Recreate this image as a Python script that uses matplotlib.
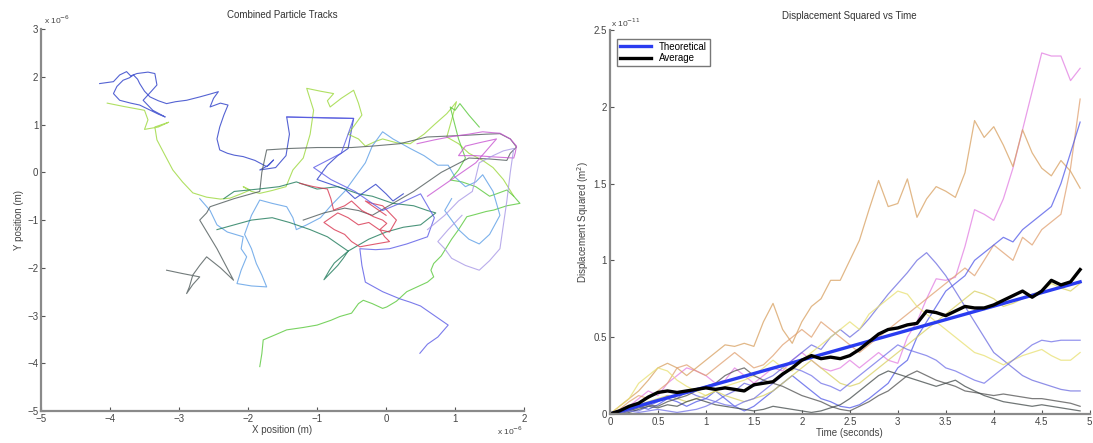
import numpy as np
import matplotlib
matplotlib.use("Agg")
from matplotlib import pyplot as plt

plt.rcParams['font.family'] = ['Liberation Sans', 'DejaVu Sans']
plt.rcParams['font.size'] = 7

# ---- left panel: particle tracks, in units of 1e-6 m ----
tracks = [
    # dark blue
    ([-4.15, -3.95, -3.86, -3.76, -3.70, -3.61, -3.45, -3.35, -3.32, -3.40, -3.52, -3.38, -3.20,
      -3.30, -3.57, -3.70, -3.86, -3.95, -3.90, -3.81, -3.72, -3.66, -3.60, -3.57, -3.50, -3.42,
      -3.30, -3.18, -3.05, -2.89, -2.70, -2.55, -2.43, -2.50, -2.55, -2.40, -2.29, -2.35, -2.41,
      -2.45, -2.41, -2.30, -2.20, -2.07, -1.90, -1.73, -1.63, -1.70, -1.83, -1.60, -1.45, -1.40,
      -1.44, -1.20, -0.90, -0.47, -0.50, -0.55, -0.70, -0.85, -1.00, -0.80, -0.60, -0.45, -0.30,
      -0.15, 0.00, 0.10, 0.25],
     [1.86, 1.90, 2.04, 2.11, 2.02, 2.07, 2.10, 2.07, 1.83, 1.70, 1.51, 1.30, 1.16,
      1.22, 1.41, 1.45, 1.51, 1.65, 1.80, 1.93, 1.98, 2.04, 1.95, 1.86, 1.70, 1.58,
      1.50, 1.44, 1.48, 1.51, 1.58, 1.64, 1.69, 1.55, 1.37, 1.45, 1.41, 1.20, 0.95,
      0.70, 0.47, 0.40, 0.36, 0.33, 0.25, 0.12, 0.26, 0.15, 0.05, 0.10, 0.35, 0.80,
      1.16, 1.15, 1.14, 1.13, 0.90, 0.50, 0.35, 0.15, -0.15, -0.25, -0.35, -0.55, -0.40,
      -0.25, -0.45, -0.60, -0.45], '#2a3cc8'),
    # yellow green
    ([-4.04, -3.80, -3.50, -3.45, -3.50, -3.30, -3.15, -3.25, -3.35, -3.32, -3.20, -3.09, -2.95,
      -2.80, -2.60, -2.40, -2.26, -2.10, -1.97, -2.07, -1.95, -1.83, -1.65, -1.45, -1.35, -1.20,
      -1.10, -1.05, -1.15, -0.95, -0.76, -0.85, -0.81, -0.65, -0.47, -0.40, -0.35, -0.45, -0.55,
      -0.40, -0.30, -0.15, -0.05, 0.15, 0.35, 0.55, 0.70, 0.88, 0.95, 1.02, 0.95, 0.88, 1.05,
      1.20, 1.40, 1.55, 1.70, 1.85],
     [1.45, 1.38, 1.30, 1.10, 0.90, 0.95, 1.05, 1.00, 0.95, 0.68, 0.35, 0.05, -0.20,
      -0.43, -0.52, -0.56, -0.54, -0.45, -0.37, -0.30, -0.40, -0.44, -0.38, -0.30, 0.05, 0.30,
      0.80, 1.30, 1.76, 1.70, 1.65, 1.50, 1.37, 1.55, 1.72, 1.45, 1.20, 1.00, 0.80,
      0.70, 0.55, 0.65, 0.70, 0.62, 0.60, 0.80, 1.00, 1.23, 1.35, 1.48, 1.10, 0.74, 0.60,
      0.40, 0.25, 0.10, -0.15, -0.50], '#9cd83c'),
    # bright green
    ([-1.83, -1.80, -1.78, -1.60, -1.44, -1.20, -1.00, -0.80, -0.67, -0.50, -0.40, -0.33, -0.20,
      -0.05, 0.01, 0.15, 0.30, 0.45, 0.60, 0.69, 0.65, 0.69, 0.80, 0.95, 1.05, 1.17, 1.30, 1.45,
      1.56, 1.75, 1.94, 1.85, 1.75, 1.60, 1.50, 1.30, 1.10, 0.93, 1.05, 1.15, 1.05, 0.98, 0.93,
      1.00, 1.07, 1.20, 1.35],
     [-4.07, -3.80, -3.51, -3.40, -3.30, -3.25, -3.20, -3.10, -3.02, -2.95, -2.75, -2.68, -2.75,
      -2.85, -2.82, -2.70, -2.50, -2.40, -2.30, -2.19, -2.05, -1.91, -1.75, -1.40, -1.20, -0.93,
      -0.88, -0.82, -0.79, -0.70, -0.65, -0.50, -0.37, -0.45, -0.50, -0.30, -0.20, -0.16, 0.05,
      0.30, 0.70, 1.09, 1.37, 1.30, 1.44, 1.20, 0.95], '#58c83a'),
    # light blue
    ([-2.70, -2.55, -2.45, -2.30, -2.07, -2.10, -2.02, -2.10, -2.16, -1.95, -1.73, -1.80, -1.88,
      -1.95, -2.05, -1.95, -1.83, -1.65, -1.44, -1.35, -1.30, -1.15, -0.95, -0.80, -0.60, -0.45,
      -0.30, -0.20, -0.05, 0.10, 0.35, 0.55, 0.75, 0.90, 1.00, 1.15, 1.30, 1.40, 1.55, 1.65,
      1.50, 1.35, 1.20, 1.05, 0.95, 0.85, 0.95],
     [-0.55, -0.80, -1.10, -1.25, -1.35, -1.60, -1.77, -2.05, -2.33, -2.38, -2.40, -2.15, -1.91,
      -1.60, -1.30, -0.90, -0.58, -0.65, -0.72, -0.95, -1.20, -1.10, -0.95, -0.70, -0.40, -0.10,
      0.20, 0.55, 0.85, 0.70, 0.50, 0.35, 0.15, 0.15, -0.10, -0.30, -0.20, -0.05, -0.40, -0.90,
      -1.30, -1.50, -1.40, -1.20, -1.00, -0.80, -0.55], '#5c9ee6'),
    # dark gray
    ([-3.18, -2.95, -2.70, -2.80, -2.89, -2.85, -2.80, -2.70, -2.60, -2.40, -2.21, -2.45, -2.70,
      -2.60, -2.55, -2.20, -1.83, -1.80, -1.73, -1.40, -1.00, -0.50, -0.20, 0.20, 0.59, 0.90,
      1.20, 1.45, 1.65, 1.80, 1.89, 1.80, 1.75, 1.50, 1.20, 0.80, 0.40, 0.10, -0.20, -0.40,
      -0.60, -0.90, -1.20],
     [-2.05, -2.12, -2.19, -2.35, -2.54, -2.40, -2.15, -1.95, -1.77, -2.00, -2.26, -1.60, -1.00,
      -0.85, -0.72, -0.55, -0.40, 0.00, 0.47, 0.50, 0.52, 0.52, 0.55, 0.60, 0.74, 0.76,
      0.78, 0.80, 0.81, 0.70, 0.53, 0.40, 0.25, 0.28, 0.30, 0.00, -0.40, -0.65, -0.90, -0.80,
      -0.75, -0.85, -1.00], '#4f5a5a'),
    # dark green
    ([-2.45, -2.20, -1.95, -1.65, -1.40, -1.10, -0.85, -0.70, -0.55, -0.62, -0.70, -0.80, -0.90,
      -0.82, -0.75, -0.55, -0.25, 0.00, 0.25, 0.50, 0.72, 0.60, 0.40, 0.10, -0.20, -0.40, -0.70,
      -1.00, -1.30, -1.55, -1.85, -2.20, -2.35],
     [-1.20, -1.10, -1.00, -0.95, -1.05, -1.20, -1.35, -1.50, -1.65, -1.80, -1.95, -2.10, -2.25,
      -2.05, -1.90, -1.65, -1.40, -1.25, -1.15, -1.10, -0.85, -0.80, -0.70, -0.65, -0.50, -0.45,
      -0.30, -0.35, -0.20, -0.30, -0.35, -0.40, -0.55], '#1e7a5a'),
    # red
    ([-1.25, -1.05, -0.85, -0.80, -0.76, -0.60, -0.50, -0.35, -0.18, -0.05, 0.01, -0.09, -0.02,
      0.05, -0.15, -0.38, -0.50, -0.60, -0.75, -0.90, -0.80, -0.70, -0.55, -0.40, -0.25, -0.10,
      0.05, 0.15, 0.05, -0.05, -0.20, -0.30, -0.15, 0.00],
     [-0.23, -0.30, -0.35, -0.55, -0.79, -0.70, -0.60, -0.80, -0.93, -1.00, -1.07, -1.20, -1.35,
      -1.45, -1.50, -1.56, -1.45, -1.30, -1.20, -1.05, -0.95, -0.85, -0.95, -1.10, -1.05, -1.20,
      -1.25, -1.00, -0.85, -0.70, -0.65, -0.60, -0.75, -0.90], '#d8344e'),
    # magenta
    ([0.45, 0.70, 0.95, 1.20, 1.40, 1.55, 1.65, 1.80, 1.89, 1.87, 1.85, 1.60, 1.30, 1.05, 1.10,
      1.15, 1.35, 1.60, 1.45, 1.30, 1.10, 0.90, 0.75, 0.60],
     [0.60, 0.68, 0.75, 0.80, 0.85, 0.83, 0.82, 0.70, 0.55, 0.40, 0.30, 0.32, 0.35, 0.35, 0.45,
      0.55, 0.62, 0.70, 0.45, 0.20, 0.00, -0.20, -0.35, -0.50], '#c855d2'),
    # violet
    ([-1.44, -1.00, -0.47, -0.55, -0.65, -0.85, -1.05, -0.80, -0.45, -0.25, -0.05, 0.20, 0.50,
      0.60, 0.70, 0.65, 0.60, 0.30, 0.05, -0.15, -0.38, -0.35, -0.30, -0.05, 0.20, 0.35, 0.50,
      0.60, 0.70, 0.80, 0.90, 0.75, 0.60, 0.49],
     [1.16, 1.15, 1.13, 0.80, 0.40, 0.25, 0.10, -0.15, -0.40, -0.60, -0.80, -0.65, -0.45,
      -0.70, -0.95, -1.15, -1.35, -1.50, -1.60, -1.62, -1.60, -1.95, -2.30, -2.50, -2.65, -2.72,
      -2.80, -2.90, -3.00, -3.10, -3.20, -3.45, -3.60, -3.79], '#5a5ae6'),
    # lilac
    ([0.60, 0.85, 1.05, 1.25, 1.30, 1.35, 1.55, 1.70, 1.85, 1.80, 1.75, 1.65, 1.50, 1.35, 1.15,
      0.95, 0.85, 0.75, 0.90, 1.10],
     [-1.20, -0.90, -0.60, -0.40, -0.10, 0.20, 0.35, 0.45, 0.50, 0.00, -0.60, -1.60, -1.85,
      -2.05, -1.95, -1.80, -1.60, -1.45, -1.20, -0.90], '#a898e6'),
]

# ---- right panel: displacement squared, in units of 1e-11 m^2 ----
t = [i / 10 for i in range(50)]
theory_t = [0.0, 4.9]
theory_d = [0.0, 0.86]
series = [
    ('#e27ee2', [0, .02, .05, .10, .15, .12, .20, .25, .30, .28, .25, .20, .22, .30, .25, .20,
                 .25, .30, .28, .35, .40, .35, .30, .28, .30, .35, .30, .35, .40, .35, .33, .50,
                 .60, .75, .88, .87, .89, 1.09, 1.33, 1.30, 1.26, 1.40, 1.60, 1.85, 2.10, 2.35,
                 2.33, 2.33, 2.17, 2.25]),
    ('#d8a060', [0, .05, .10, .15, .22, .30, .33, .30, .25, .30, .35, .40, .45, .44, .46, .44,
                 .60, .72, .55, .46, .60, .70, .75, .87, .87, 1.0, 1.13, 1.33, 1.52, 1.35, 1.37,
                 1.53, 1.28, 1.40, 1.48, 1.45, 1.41, 1.57, 1.91, 1.80, 1.87, 1.75, 1.61, 1.85,
                 1.70, 1.60, 1.55, 1.65, 1.58, 1.47]),
    ('#e0a070', [0, .03, .08, .12, .10, .15, .20, .30, .32, .28, .25, .30, .35, .40, .35, .30,
                 .32, .38, .45, .50, .55, .50, .60, .55, .50, .45, .40, .45, .50, .55, .60, .65,
                 .70, .75, .80, .85, .90, .95, .90, 1.0, 1.10, 1.05, 1.0, 1.15, 1.10, 1.20,
                 1.25, 1.30, 1.60, 2.05]),
    ('#5058e8', [0, 0, .02, .05, .03, .06, .10, .08, .05, .08, .10, .15, .10, .05, .02, .05,
                 .10, .15, .20, .25, .20, .15, .10, .08, .05, .04, .06, .10, .15, .20, .30, .35,
                 .50, .60, .70, .80, .85, .90, 1.0, 1.05, 1.10, 1.15, 1.12, 1.20, 1.25, 1.30,
                 1.35, 1.50, 1.70, 1.90]),
    ('#6a6ae0', [0, .01, .03, .02, .05, .08, .12, .10, .15, .12, .10, .08, .12, .15, .20, .18,
                 .22, .25, .30, .35, .40, .45, .42, .50, .55, .50, .55, .62, .70, .78, .85,
                 .92, 1.0, 1.05, .98, .90, .80, .70, .60, .50, .40, .35, .30, .25, .22, .20, .18,
                 .16, .15, .15]),
    ('#e8e070', [0, .05, .10, .20, .25, .30, .28, .22, .18, .15, .12, .15, .18, .20, .22, .25,
                 .30, .35, .30, .28, .35, .40, .45, .50, .55, .60, .55, .65, .70, .75, .80, .78,
                 .70, .65, .60, .55, .50, .45, .40, .38, .35, .32, .35, .38, .40, .42, .38, .35,
                 .35, .40]),
    ('#d8d060', [0, .02, .04, .06, .08, .10, .12, .10, .08, .10, .12, .15, .12, .10, .08, .10,
                 .12, .15, .20, .25, .30, .35, .30, .25, .20, .18, .20, .25, .30, .35, .40, .45,
                 .50, .55, .60, .65, .70, .75, .80, .78, .75, .70, .72, .75, .78, .80, .85,
                 .82, .80, .85]),
    ('#505050', [0, .01, .02, .04, .06, .05, .08, .10, .12, .15, .18, .20, .25, .28, .30, .25,
                 .22, .20, .18, .15, .12, .10, .08, .05, .03, .02, .05, .08, .12, .15, .20, .25,
                 .28, .25, .22, .20, .18, .15, .14, .13, .12, .13, .12, .11, .10, .10, .09, .08,
                 .07, .05]),
    ('#404848', [0, .02, .01, .03, .05, .04, .06, .05, .08, .10, .08, .06, .05, .04, .03, .02,
                 .03, .05, .04, .03, .02, .01, .02, .04, .06, .10, .15, .20, .25, .28, .26, .24,
                 .22, .20, .18, .20, .22, .18, .15, .12, .10, .08, .07, .06, .05, .06, .05,
                 .04, .03, .02]),
    ('#7070e8', [0, .01, .02, .01, .02, .03, .02, .01, .02, .03, .05, .08, .06, .05, .08, .10,
                 .15, .20, .25, .30, .28, .25, .20, .18, .15, .20, .25, .30, .35, .40, .45, .42,
                 .40, .38, .35, .30, .28, .25, .22, .20, .25, .30, .35, .40, .45, .48, .47, .48,
                 .48, .48]),
]
average = [0, .02, .05, .07, .11, .14, .15, .14, .15, .16, .17, .16, .17, .16, .15, .19, .20,
           .21, .26, .30, .35, .38, .36, .37, .36, .38, .42, .47, .52, .55, .56, .58, .59, .67,
           .66, .64, .67, .70, .69, .69, .71, .74, .77, .80, .76, .80, .87, .84, .86, .94]

fig = plt.figure(figsize=(10.93, 4.43), dpi=100)
ax1 = fig.add_axes([0.0375, 0.0722, 0.442, 0.862])
ax2 = fig.add_axes([0.558, 0.0655, 0.439, 0.867])

for xs, ys, c in tracks:
    ax1.plot(xs, ys, color=c, lw=0.8, alpha=0.8)
ax1.set_xlim(-5, 2)
ax1.set_ylim(-5, 3)
ax1.set_title('Combined Particle Tracks', fontsize=7, color='#333333', pad=8)
ax1.set_xlabel('X position (m)', labelpad=1, color='#444444')
ax1.set_ylabel('Y position (m)', labelpad=2, color='#444444')

for c, ys in series:
    ax2.plot(t, ys, color=c, lw=0.9, alpha=0.75)
lt, = ax2.plot(theory_t, theory_d, color='#2a3cf0', lw=2.4, label='Theoretical')
la, = ax2.plot(t, average, color='black', lw=2.4, label='Average')
ax2.set_xlim(0, 5)
ax2.set_ylim(0, 2.5)
ax2.set_xticks(np.arange(0, 5.01, 0.5))
ax2.set_xticklabels(['0', '0.5', '1', '1.5', '2', '2.5', '3', '3.5', '4', '4.5', '5'])
ax2.set_yticks([0, 0.5, 1, 1.5, 2, 2.5])
ax2.set_yticklabels(['0', '0.5', '1', '1.5', '2', '2.5'])
ax2.set_title('Displacement Squared vs Time', fontsize=7, color='#333333', pad=8)
ax2.set_xlabel('Time (seconds)', labelpad=1, color='#444444')
ax2.set_ylabel('Displacement Squared (m$^2$)', labelpad=2, color='#444444')
leg = ax2.legend(loc='upper left', fontsize=7, handlelength=3.2, borderpad=0.3,
                 labelspacing=0.2, fancybox=False, bbox_to_anchor=(0.005, 0.99))
leg.get_frame().set_edgecolor('#555555')
leg.get_frame().set_linewidth(1.0)

for ax in (ax1, ax2):
    for s in ('top', 'right'):
        ax.spines[s].set_visible(False)
    for s in ('left', 'bottom'):
        ax.spines[s].set_color('#8a8a8a')
        ax.spines[s].set_linewidth(1.6)
    ax.tick_params(direction='in', length=3, width=0.8, color='#555555',
                   labelcolor='#444444', labelsize=7, pad=2)

fig.text(0.040, 0.945, r'x 10$^{-6}$', fontsize=6, color='#444444')
fig.text(0.455, 0.018, r'x 10$^{-6}$', fontsize=6, color='#444444')
fig.text(0.559, 0.940, r'x 10$^{-11}$', fontsize=6, color='#444444')

fig.savefig('out.png', dpi=100)
